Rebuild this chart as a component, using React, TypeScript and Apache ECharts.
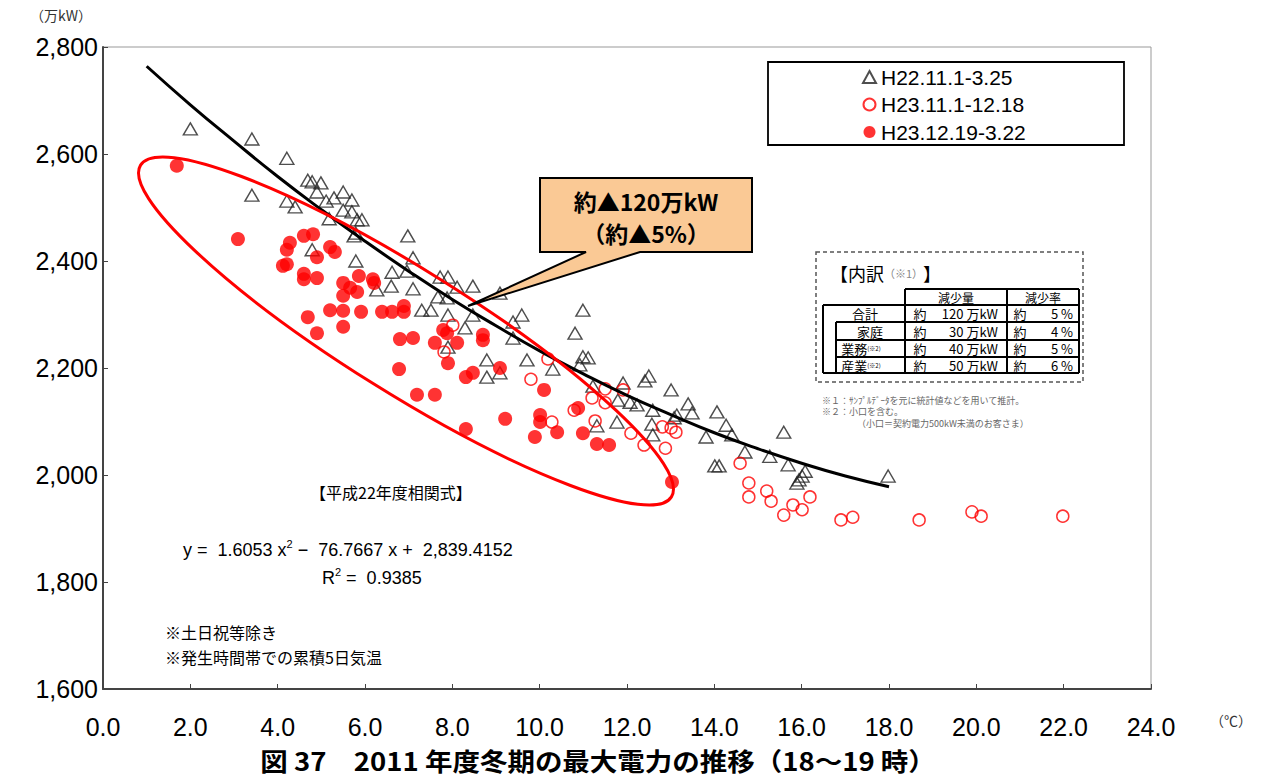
import { useEffect, useRef } from "react";
import * as echarts from "echarts";

// ---- data ----
const seriesNames = ["H22.11.1-3.25", "H23.11.1-12.18", "H23.12.19-3.22"];

const h22X = [2.0, 3.41, 4.21, 3.41, 4.21, 4.4, 4.69, 4.79, 4.99, 4.9, 5.11, 5.29, 5.5, 5.7, 5.5, 5.7, 5.18, 5.82, 5.93, 5.75, 5.79, 4.79, 5.79, 6.98, 7.1, 6.62, 6.96, 6.6, 6.27, 7.1, 7.72, 7.9, 8.11, 8.47, 7.67, 7.88, 9.09, 7.3, 7.51, 7.9, 8.47, 8.29, 9.39, 9.59, 9.39, 10.99, 10.81, 8.79, 8.79, 9.09, 9.71, 7.9, 10.3, 10.99, 11.11, 10.92, 11.22, 11.31, 11.91, 11.79, 12.07, 12.23, 12.59, 12.5, 12.41, 13.01, 13.4, 13.49, 13.14, 13.08, 11.77, 12.57, 12.59, 14.06, 14.27, 14.4, 13.81, 14.7, 15.27, 15.59, 15.69, 14.01, 14.11, 16.08, 16.01, 15.94, 15.89, 17.98];
const h22Y = [2647, 2628, 2592, 2523, 2512, 2501, 2551, 2548, 2546, 2529, 2512, 2518, 2529, 2514, 2495, 2492, 2479, 2477, 2477, 2447, 2452, 2421, 2400, 2447, 2406, 2379, 2381, 2353, 2346, 2348, 2370, 2370, 2351, 2353, 2333, 2331, 2340, 2308, 2308, 2299, 2299, 2275, 2286, 2299, 2256, 2308, 2265, 2215, 2183, 2191, 2215, 2239, 2198, 2221, 2219, 2206, 2166, 2092, 2172, 2140, 2136, 2131, 2121, 2185, 2176, 2159, 2133, 2116, 2112, 2107, 2099, 2095, 2075, 2118, 2093, 2075, 2071, 2043, 2035, 2080, 2019, 2017, 2017, 2007, 1998, 1991, 1985, 1998];

const h23aX = [8.01, 7.81, 9.8, 10.19, 10.28, 10.79, 11.2, 11.27, 11.5, 11.91, 11.5, 12.09, 12.39, 12.81, 13.01, 13.12, 12.88, 14.59, 14.79, 14.79, 15.2, 15.3, 16.19, 15.8, 16.01, 15.59, 16.9, 17.17, 18.69, 19.9, 20.11, 21.98];
const h23aY = [2280, 2230, 2179, 2217, 2099, 2121, 2144, 2101, 2161, 2159, 2135, 2078, 2056, 2090, 2088, 2080, 2050, 2022, 1985, 1959, 1970, 1951, 1959, 1944, 1935, 1925, 1916, 1921, 1916, 1931, 1923, 1923];

const h23bX = [1.69, 3.09, 4.28, 4.21, 4.6, 4.81, 5.2, 5.31, 4.9, 4.12, 4.21, 4.6, 4.6, 4.9, 5.5, 5.86, 6.18, 6.21, 5.5, 5.66, 5.82, 5.2, 5.5, 5.91, 6.39, 6.62, 6.89, 6.89, 4.69, 5.5, 4.9, 6.8, 7.1, 7.79, 7.88, 7.6, 8.11, 8.7, 8.7, 7.9, 6.78, 8.31, 8.47, 9.09, 7.19, 7.6, 10.1, 9.21, 10.01, 10.01, 10.4, 9.89, 10.88, 10.99, 11.31, 11.59, 8.31, 13.03];
const h23bY = [2578, 2441, 2434, 2421, 2447, 2450, 2426, 2417, 2407, 2391, 2394, 2376, 2366, 2368, 2359, 2372, 2366, 2359, 2335, 2350, 2342, 2308, 2307, 2305, 2305, 2305, 2316, 2305, 2295, 2277, 2265, 2254, 2256, 2271, 2265, 2247, 2247, 2262, 2252, 2209, 2198, 2183, 2191, 2200, 2150, 2150, 2159, 2105, 2112, 2099, 2080, 2071, 2125, 2078, 2058, 2056, 2086, 1987];

const trendX = [1, 2, 3, 4, 5, 6, 7, 8, 9, 10, 11, 12, 13, 14, 15, 16, 17, 18];
const trendY = [2764, 2692, 2624, 2558, 2496, 2437, 2381, 2328, 2279, 2232, 2189, 2149, 2113, 2079, 2049, 2022, 1998, 1978];

const tableHeaders = ["減少量", "減少率"];
const tableRowLabels = ["合計", "家庭", "業務", "産業"];
const tableRowNotes = ["", "", "(※2)", "(※2)"];
const tableAmounts = ["120", "30", "40", "50"];
const tableRates = ["5", "4", "5", "6"];

const pairs = (xs: number[], ys: number[]) => xs.map((x, i) => [x, ys[i]]);

const JP = "'Noto Sans CJK JP', sans-serif";
const LAT = "'Liberation Sans', Arial, sans-serif";

function txt(x: number, y: number, text: string, o: any = {}) {
  return {
    type: "text",
    x,
    y,
    z: o.z ?? 60,
    style: {
      text,
      fontSize: o.size ?? 14,
      fontFamily: o.family ?? JP,
      fontWeight: o.weight ?? "normal",
      fill: o.color ?? "#000",
      align: o.align ?? "left",
      verticalAlign: o.valign ?? "middle",
      rich: o.rich,
    },
  };
}
function ln(x1: number, y1: number, x2: number, y2: number, w = 2) {
  return {
    type: "line",
    z: 60,
    shape: { x1, y1, x2, y2 },
    style: { stroke: "#000", lineWidth: w },
  };
}

function buildGraphics() {
  const g: any[] = [];
  // legend frame
  g.push({ type: "rect", z: 40, shape: { x: 768, y: 62, width: 356, height: 83 }, style: { fill: "none", stroke: "#000", lineWidth: 1.8 } });
  // callout
  g.push({
    type: "polygon",
    z: 70,
    shape: { points: [[540, 178], [752, 178], [752, 252], [640, 252], [468, 306], [586, 252], [540, 252]] },
    style: { fill: "#FAC995", stroke: "#000", lineWidth: 2 },
  });
  g.push({ ...txt(646, 201, "約▲120万kW", { size: 23, weight: "bold", align: "center" }), z: 71 });
  g.push({ ...txt(646, 233, "（約▲5%）", { size: 23, weight: "bold", align: "center" }), z: 71 });
  // ellipse
  g.push({
    type: "ellipse",
    z: 50,
    x: 406,
    y: 331,
    rotation: (-32 * Math.PI) / 180,
    shape: { cx: 0, cy: 0, rx: 313, ry: 62 },
    style: { fill: "none", stroke: "#ff0000", lineWidth: 3 },
  });
  // breakdown box
  g.push({ type: "rect", z: 40, shape: { x: 816, y: 252, width: 267, height: 130 }, style: { fill: "#fff", stroke: "#555", lineWidth: 1.5, lineDash: [4, 3] } });
  g.push(
    txt(830, 273, "{a|【内訳}{b|（※1）}{a|】}", {
      rich: {
        a: { fontSize: 18, fontFamily: JP, fill: "#000" },
        b: { fontSize: 11, fontFamily: JP, fill: "#888" },
      },
    })
  );
  // table lines
  g.push(ln(905, 289, 1079, 289));
  g.push(ln(823, 305, 1079, 305));
  g.push(ln(836, 322, 1079, 322));
  g.push(ln(836, 340, 1079, 340));
  g.push(ln(836, 357, 1079, 357));
  g.push(ln(823, 373, 1079, 373));
  g.push(ln(905, 289, 905, 373));
  g.push(ln(1007, 289, 1007, 373));
  g.push(ln(1079, 289, 1079, 373));
  g.push(ln(823, 305, 823, 373));
  g.push(ln(836, 322, 836, 373));
  g.push(txt(956, 297.5, tableHeaders[0], { size: 12, align: "center" }));
  g.push(txt(1043, 297.5, tableHeaders[1], { size: 12, align: "center" }));
  const rowY = [313.5, 331, 348.5, 365];
  const labelX = [865, 870, 861, 861];
  tableRowLabels.forEach((lab, i) => {
    const y = rowY[i];
    if (tableRowNotes[i]) {
      g.push(txt(labelX[i], y, `{a|${lab}}{b|${tableRowNotes[i]}}`, {
        align: "center",
        rich: { a: { fontSize: 13, fontFamily: JP, fill: "#000" }, b: { fontSize: 6, fontFamily: JP, fill: "#000" } },
      }));
    } else {
      g.push(txt(labelX[i], y, lab, { size: 13, align: "center" }));
    }
    g.push(txt(920, y, "約", { size: 13, align: "center" }));
    g.push(txt(998, y, `${tableAmounts[i]} 万kW`, { size: 13, align: "right" }));
    g.push(txt(1020, y, "約", { size: 13, align: "center" }));
    g.push(txt(1073, y, `${tableRates[i]} %`, { size: 13, align: "right" }));
  });
  g.push(txt(822, 400, "※１：ｻﾝﾌﾟﾙﾃﾞｰﾀを元に統計値などを用いて推計。", { size: 9, color: "#666" }));
  g.push(txt(822, 411, "※２：小口を含む。", { size: 9, color: "#666" }));
  g.push(txt(857, 423, "（小口＝契約電力500kW未満のお客さま）", { size: 9, color: "#666" }));
  // equation block
  g.push(txt(310, 492, "【平成22年度相関式】", { size: 16 }));
  g.push(
    txt(183, 550, "{t|y =  1.6053 x}{s|2}{t| −  76.7667 x +  2,839.4152}", {
      rich: {
        t: { fontSize: 18, fontFamily: LAT, fill: "#000" },
        s: { fontSize: 11, fontFamily: LAT, fill: "#000", padding: [0, 0, 12, 0] },
      },
    })
  );
  g.push(
    txt(322, 578, "{t|R}{s|2}{t| =  0.9385}", {
      rich: {
        t: { fontSize: 18, fontFamily: LAT, fill: "#000" },
        s: { fontSize: 11, fontFamily: LAT, fill: "#000", padding: [0, 0, 12, 0] },
      },
    })
  );
  g.push(txt(165, 632, "※土日祝等除き", { size: 16 }));
  g.push(txt(165, 657, "※発生時間帯での累積5日気温", { size: 16 }));
  // unit labels
  g.push(txt(30, 15, "（万kW）", { size: 14, color: "#333" }));
  g.push(txt(1210, 720, "（℃）", { size: 14, color: "#333" }));
  // bottom title
  g.push({
    ...txt(598, 761, "図 37　2011 年度冬期の最大電力の推移（18〜19 時）", { size: 25, weight: "bold", align: "center" }),
    scaleX: 1.1,
  });
  return g;
}

export default function App() {
  const ref = useRef<HTMLDivElement>(null);
  useEffect(() => {
    if (!ref.current) return;
    const chart = echarts.init(ref.current, undefined, { renderer: "svg" });
    chart.setOption({
      animation: false,
      backgroundColor: "#fff",
      grid: { left: 103, right: 110, top: 47, bottom: 91, show: true, borderColor: "#999", borderWidth: 1 },
      legend: {
        data: seriesNames,
        orient: "vertical",
        left: 857,
        top: 61,
        itemGap: 5.5,
        itemWidth: 13,
        itemHeight: 12,
        textStyle: { fontSize: 21, fontFamily: LAT, color: "#000", lineHeight: 22 },
      },
      xAxis: {
        type: "value",
        min: 0,
        max: 24,
        interval: 2,
        axisLine: { show: true, lineStyle: { color: "#444", width: 2 } },
        axisTick: { show: true, inside: true, length: 5, lineStyle: { color: "#444" } },
        splitLine: { show: false },
        axisLabel: {
          formatter: (v: number) => v.toFixed(1),
          fontSize: 25,
          fontFamily: "'Liberation Sans Narrow', 'Liberation Sans', sans-serif",
          color: "#000",
          margin: 25,
        },
      },
      yAxis: {
        type: "value",
        min: 1600,
        max: 2800,
        interval: 200,
        axisLine: { show: true, lineStyle: { color: "#444", width: 2 } },
        axisTick: { show: true, inside: true, length: 5, lineStyle: { color: "#444" } },
        splitLine: { show: false },
        axisLabel: {
          formatter: (v: number) => v.toLocaleString("en-US"),
          fontSize: 25,
          fontFamily: LAT,
          color: "#000",
          margin: 5,
        },
      },
      series: [
        {
          name: seriesNames[0],
          type: "scatter",
          symbol: "triangle",
          symbolSize: [14, 12],
          data: pairs(h22X, h22Y),
          itemStyle: { color: "rgba(255,255,255,0)", borderColor: "#222", borderWidth: 1.4 },
          z: 3,
        },
        {
          name: seriesNames[1],
          type: "scatter",
          symbol: "circle",
          symbolSize: 12,
          data: pairs(h23aX, h23aY),
          itemStyle: { color: "rgba(255,255,255,0)", borderColor: "#ff0000", borderWidth: 1.5 },
          z: 4,
        },
        {
          name: seriesNames[2],
          type: "scatter",
          symbol: "circle",
          symbolSize: 14,
          data: pairs(h23bX, h23bY),
          itemStyle: { color: "#ff0000" },
          z: 5,
        },
        {
          name: "trend",
          type: "line",
          smooth: true,
          showSymbol: false,
          symbol: "none",
          data: pairs(trendX, trendY),
          lineStyle: { color: "#000", width: 3 },
          z: 6,
        },
      ],
      graphic: buildGraphics(),
    });
    return () => chart.dispose();
  }, []);
  return <div ref={ref} style={{ position: "absolute", left: 0, top: 0, width: 1261, height: 780 }} />;
}
